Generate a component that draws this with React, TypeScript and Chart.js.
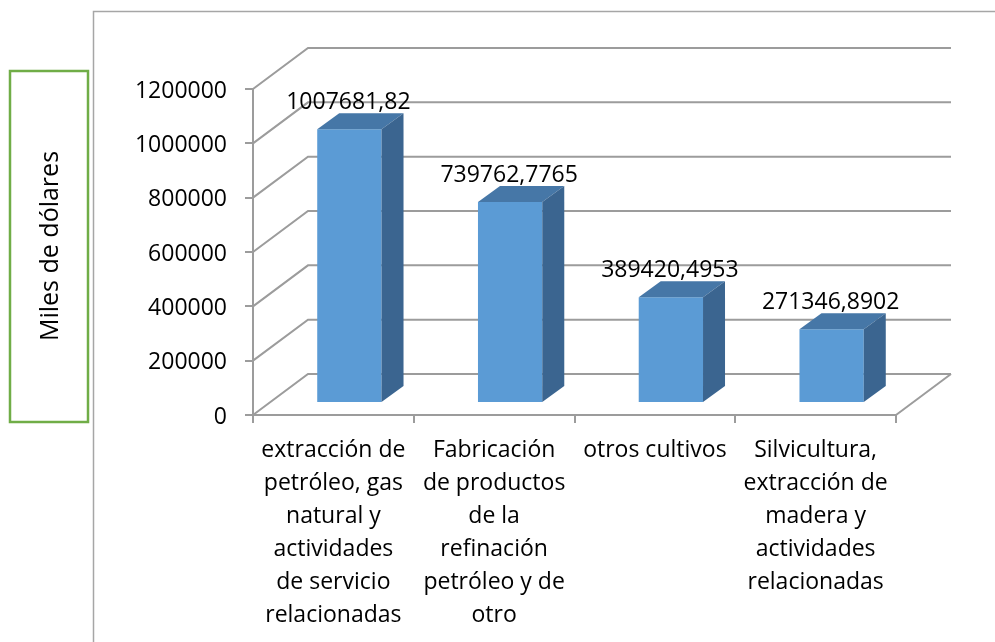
import React, { useEffect, useRef } from 'react';
import { Chart, registerables } from 'chart.js';

Chart.register(...registerables);

// ---- data ----
const categories: string[][] = [
  ['extracción de', 'petróleo, gas', 'natural y', 'actividades', 'de servicio', 'relacionadas'],
  ['Fabricación', 'de productos', 'de la', 'refinación', 'petróleo y de', 'otro'],
  ['otros cultivos'],
  ['Silvicultura,', 'extracción de', 'madera y', 'actividades', 'relacionadas'],
];
const values: number[] = [1007681.82, 739762.7765, 389420.4953, 271346.8902];
const yTicks: number[] = [0, 200000, 400000, 600000, 800000, 1000000, 1200000];
const yTitle = 'Miles de dólares';

// ---- style ----
const FONT = "'Open Sans', sans-serif";
const GRID = '#9C9C9C';
const FRONT = '#5B9BD5';
const TOP = '#4677A7';
const SIDE = '#3B6590';
const WALL = { dx: 55, dy: -41 };
const BAR_FRONT = { dx: 16, dy: -12 };
const BAR_DEPTH = { dx: 22, dy: -16 };

const fmt = (v: number) => String(v).replace('.', ',');

const excel3d = {
  id: 'excel3d',
  beforeDraw(chart: any) {
    const ctx = chart.ctx;
    ctx.save();
    ctx.strokeStyle = '#A6A6A6';
    ctx.lineWidth = 1.5;
    ctx.beginPath();
    ctx.moveTo(93.5, chart.height);
    ctx.lineTo(93.5, 11.5);
    ctx.lineTo(chart.width, 11.5);
    ctx.stroke();
    ctx.strokeStyle = '#70AD47';
    ctx.lineWidth = 2.5;
    ctx.strokeRect(10, 71, 78, 351);
    ctx.translate(51, 246);
    ctx.rotate(-Math.PI / 2);
    ctx.fillStyle = '#000';
    ctx.font = `25px ${FONT}`;
    ctx.textAlign = 'center';
    ctx.textBaseline = 'middle';
    ctx.fillText(yTitle, 0, 0);
    ctx.restore();
  },
  beforeDatasetsDraw(chart: any) {
    const { ctx, chartArea, scales } = chart;
    const { left, right, bottom } = chartArea;
    const y = scales.y;
    ctx.save();
    ctx.strokeStyle = GRID;
    ctx.lineWidth = 2;
    for (const v of yTicks) {
      const py = y.getPixelForValue(v);
      ctx.beginPath();
      ctx.moveTo(left, py);
      ctx.lineTo(left + WALL.dx, py + WALL.dy);
      ctx.lineTo(right + WALL.dx, py + WALL.dy);
      ctx.stroke();
    }
    ctx.beginPath();
    ctx.moveTo(right, bottom);
    ctx.lineTo(right + WALL.dx, bottom + WALL.dy);
    ctx.stroke();
    ctx.restore();
    ctx.save();
    ctx.translate(BAR_FRONT.dx, BAR_FRONT.dy);
  },
  afterDatasetsDraw(chart: any) {
    const ctx = chart.ctx;
    ctx.restore();
    const meta = chart.getDatasetMeta(0);
    meta.data.forEach((bar: any, i: number) => {
      const { x, y, base, width } = bar.getProps(['x', 'y', 'base', 'width'], true);
      const l = x - width / 2 + BAR_FRONT.dx;
      const r = x + width / 2 + BAR_FRONT.dx;
      const t = y + BAR_FRONT.dy;
      const b = base + BAR_FRONT.dy;
      ctx.save();
      ctx.fillStyle = TOP;
      ctx.beginPath();
      ctx.moveTo(l, t);
      ctx.lineTo(l + BAR_DEPTH.dx, t + BAR_DEPTH.dy);
      ctx.lineTo(r + BAR_DEPTH.dx, t + BAR_DEPTH.dy);
      ctx.lineTo(r, t);
      ctx.closePath();
      ctx.fill();
      ctx.fillStyle = SIDE;
      ctx.beginPath();
      ctx.moveTo(r, t);
      ctx.lineTo(r + BAR_DEPTH.dx, t + BAR_DEPTH.dy);
      ctx.lineTo(r + BAR_DEPTH.dx, b + BAR_DEPTH.dy);
      ctx.lineTo(r, b);
      ctx.closePath();
      ctx.fill();
      ctx.fillStyle = '#000';
      ctx.font = `23px ${FONT}`;
      ctx.textAlign = 'center';
      ctx.textBaseline = 'alphabetic';
      ctx.fillText(fmt(values[i]), (l + r) / 2 - 1, t - 20);
      ctx.restore();
    });
  },
};

export default function App() {
  const ref = useRef<HTMLCanvasElement | null>(null);
  useEffect(() => {
    if (!ref.current) return;
    const chart = new Chart(ref.current, {
      type: 'bar',
      data: {
        labels: categories,
        datasets: [
          {
            data: values,
            backgroundColor: FRONT,
            borderWidth: 0,
            barPercentage: 0.4,
            categoryPercentage: 1,
            clip: false as any,
          },
        ],
      },
      options: {
        responsive: false,
        animation: false,
        devicePixelRatio: 1,
        layout: { padding: { left: 0, top: 89, right: 99, bottom: 0 } },
        plugins: { legend: { display: false }, tooltip: { enabled: false } },
        scales: {
          x: {
            offset: true,
            grid: { offset: true, drawOnChartArea: false, drawTicks: true, tickLength: 8, color: GRID, lineWidth: 2 },
            border: { display: true, color: GRID, width: 2 },
            ticks: {
              autoSkip: false,
              maxRotation: 0,
              minRotation: 0,
              padding: 11,
              color: '#000',
              font: { family: FONT, size: 23, lineHeight: '33px' as any },
            },
            afterFit: (s: any) => { s.height = 227; },
          },
          y: {
            min: 0,
            max: 1200000,
            ticks: {
              stepSize: 200000,
              padding: 18,
              labelOffset: 2,
              color: '#000',
              font: { family: FONT, size: 23 },
              callback: (v: any) => String(v),
            },
            grid: { drawOnChartArea: false, drawTicks: true, tickLength: 8, color: GRID, lineWidth: 2 },
            border: { display: true, color: GRID, width: 2 },
            afterFit: (s: any) => { s.width = 253; },
          },
        },
      },
      plugins: [excel3d],
    });
    return () => chart.destroy();
  }, []);
  return (
    <div style={{ position: 'fixed', left: 0, top: 0, width: 995, height: 642, background: '#fff' }}>
      <canvas ref={ref} width={995} height={642} />
    </div>
  );
}
